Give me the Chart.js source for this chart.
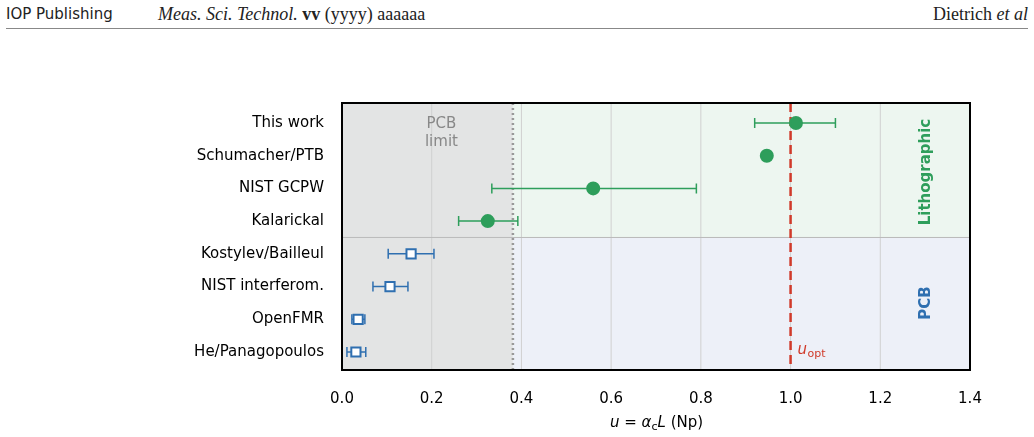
<!DOCTYPE html>
<html><head><meta charset="utf-8">
<script src="https://cdn.jsdelivr.net/npm/chart.js@4/dist/chart.umd.min.js"></script>
<style>
body{margin:0;background:#fff;width:1034px;height:437px;overflow:hidden;position:relative}
#hdr{position:absolute;left:6px;right:6px;top:3px;height:25px;border-bottom:1px solid #888;font:18px "Liberation Serif",serif;color:#222}
#hdr .l{position:absolute;left:0;top:2px;font-family:"DejaVu Sans",sans-serif;font-size:15px}
#hdr .m{position:absolute;left:152px;top:1px}
#hdr .r{position:absolute;right:0;top:1px}
canvas{position:absolute;left:0;top:0}
</style></head><body>
<div id="hdr"><span class="l">IOP Publishing</span><span class="m"><i>Meas. Sci. Technol.</i> <b>vv</b> (yyyy) aaaaaa</span><span class="r">Dietrich <i>et al</i></span></div>
<canvas id="c" width="1034" height="437"></canvas>
<script>
// data
const labels = ['This work','Schumacher/PTB','NIST GCPW','Kalarickal','Kostylev/Bailleul','NIST interferom.','OpenFMR','He/Panagopoulos'];
const uVals  = [1.012, 0.947, 0.56, 0.325, 0.154, 0.107, 0.036, 0.031];
const uLow   = [0.92, 0.940, 0.334, 0.26, 0.103, 0.069, 0.022, 0.011];
const uHigh  = [1.10, 0.954, 0.79, 0.392, 0.205, 0.147, 0.051, 0.053];
const isLitho = [true, true, true, true, false, false, false, false];
const pcbLimit = 0.381;
const uOpt = 1.0;
const xTicks = [0, 0.2, 0.4, 0.6, 0.8, 1.0, 1.2, 1.4];

const green = '#2e9e5b', blue = '#2f6fb0';

const bgPlugin = {
  id: 'bg',
  beforeDatasetsDraw(ch) {
    const {ctx, chartArea: a, scales: {x, y}} = ch;
    const xl = x.getPixelForValue(pcbLimit), mid = y.getPixelForValue(3.5);
    ctx.save();
    ctx.fillStyle = '#e3e4e4'; ctx.fillRect(a.left, a.top, xl - a.left, a.height);
    ctx.fillStyle = '#edf6f0'; ctx.fillRect(xl, a.top, a.right - xl, mid - a.top);
    ctx.fillStyle = '#edf0f8'; ctx.fillRect(xl, mid, a.right - xl, a.bottom - mid);
    ctx.strokeStyle = '#d0d0d0'; ctx.lineWidth = 1;
    xTicks.forEach(t => { const p = x.getPixelForValue(t); ctx.beginPath(); ctx.moveTo(p, a.top); ctx.lineTo(p, a.bottom); ctx.stroke(); });
    ctx.strokeStyle = '#bbbbbb'; ctx.beginPath(); ctx.moveTo(a.left, mid); ctx.lineTo(a.right, mid); ctx.stroke();
    ctx.strokeStyle = '#999'; ctx.lineWidth = 2.5; ctx.setLineDash([2, 3]);
    ctx.beginPath(); ctx.moveTo(xl, a.top); ctx.lineTo(xl, a.bottom); ctx.stroke();
    ctx.strokeStyle = '#d03a2a'; ctx.setLineDash([9, 5]);
    const xo = x.getPixelForValue(uOpt);
    ctx.beginPath(); ctx.moveTo(xo, a.top); ctx.lineTo(xo, a.bottom); ctx.stroke();
    ctx.setLineDash([]);
    // error bars
    ctx.lineWidth = 1.5;
    labels.forEach((l, i) => {
      const py = y.getPixelForValue(i), x0 = x.getPixelForValue(uLow[i]), x1 = x.getPixelForValue(uHigh[i]);
      ctx.strokeStyle = isLitho[i] ? green : blue;
      ctx.beginPath(); ctx.moveTo(x0, py); ctx.lineTo(x1, py);
      ctx.moveTo(x0, py - 5); ctx.lineTo(x0, py + 5); ctx.moveTo(x1, py - 5); ctx.lineTo(x1, py + 5); ctx.stroke();
    });
    ctx.restore();
  },
  afterDatasetsDraw(ch) {
    const {ctx, chartArea: a, scales: {x, y}} = ch;
    ctx.save();
    ctx.fillStyle = '#888'; ctx.font = '15px "DejaVu Sans"'; ctx.textAlign = 'center';
    const xm = (x.getPixelForValue(0) + x.getPixelForValue(pcbLimit)) / 2 + 14;
    ctx.fillText('PCB', xm, 128); ctx.fillText('limit', xm, 146);
    ctx.fillStyle = '#d03a2a'; ctx.textAlign = 'left';
    ctx.font = 'italic 15px "DejaVu Sans"'; ctx.fillText('u', x.getPixelForValue(uOpt) + 7, 354);
    ctx.font = '11px "DejaVu Sans"'; ctx.fillText('opt', x.getPixelForValue(uOpt) + 17, 357);
    ctx.font = 'bold 15px "DejaVu Sans"'; ctx.textAlign = 'center';
    ctx.translate(930, y.getPixelForValue(1.5)); ctx.rotate(-Math.PI / 2);
    ctx.fillStyle = green; ctx.fillText('Lithographic', 0, 0);
    ctx.setTransform(1, 0, 0, 1, 0, 0);
    ctx.translate(930, y.getPixelForValue(5.5)); ctx.rotate(-Math.PI / 2);
    ctx.fillStyle = blue; ctx.fillText('PCB', 0, 0);
    ctx.setTransform(1, 0, 0, 1, 0, 0);
    ctx.strokeStyle = '#000'; ctx.lineWidth = 2;
    ctx.strokeRect(a.left, a.top, a.width, a.height);
    // x axis title with italic symbols
    ctx.fillStyle = '#000'; ctx.textAlign = 'left';
    let px = 610; const py = 427;
    const parts = [['italic 15px "DejaVu Sans"', 'u', 0], ['15px "DejaVu Sans"', ' = ', 0], ['italic 15px "DejaVu Sans"', 'α', 0],
      ['11px "DejaVu Sans"', 'c', 3], ['italic 15px "DejaVu Sans"', 'L', 0], ['15px "DejaVu Sans"', ' (Np)', 0]];
    parts.forEach(([f, t, dy]) => { ctx.font = f; ctx.fillText(t, px, py + dy); px += ctx.measureText(t).width; });
    ctx.restore();
  }
};

const pts = uVals.map((v, i) => ({x: v, y: i}));
new Chart(document.getElementById('c'), {
  type: 'scatter',
  data: { datasets: [{
    data: pts,
    pointStyle: isLitho.map(l => l ? 'circle' : 'rect'),
    pointRadius: isLitho.map(l => l ? 6 : 6.5),
    backgroundColor: isLitho.map(l => l ? green : '#fff'),
    borderColor: isLitho.map(l => l ? green : blue),
    borderWidth: 2
  }]},
  options: {
    responsive: false, animation: false,
    layout: { padding: { left: 0, right: 64, top: 103, bottom: 0 } },
    plugins: { legend: { display: false }, tooltip: { enabled: false } },
    scales: {
      x: { type: 'linear', min: 0, max: 1.4,
        afterBuildTicks: s => { s.ticks = xTicks.map(v => ({value: v})); },
        afterFit: s => { s.height = 67; },
        grid: { display: false },
        border: { display: false },
        ticks: { padding: 12, color: '#000', font: { family: 'DejaVu Sans', size: 15 }, callback: v => v.toFixed(1) } },
      y: { type: 'linear', min: -0.61, max: 7.55, reverse: true,
        afterBuildTicks: s => { s.ticks = labels.map((l, i) => ({value: i})); },
        afterFit: s => { s.width = 342; },
        grid: { display: false }, border: { display: false },
        ticks: { padding: 10, color: '#000', font: { family: 'DejaVu Sans', size: 15 }, callback: v => labels[v] } }
    }
  },
  plugins: [bgPlugin]
});
</script>
</body></html>
